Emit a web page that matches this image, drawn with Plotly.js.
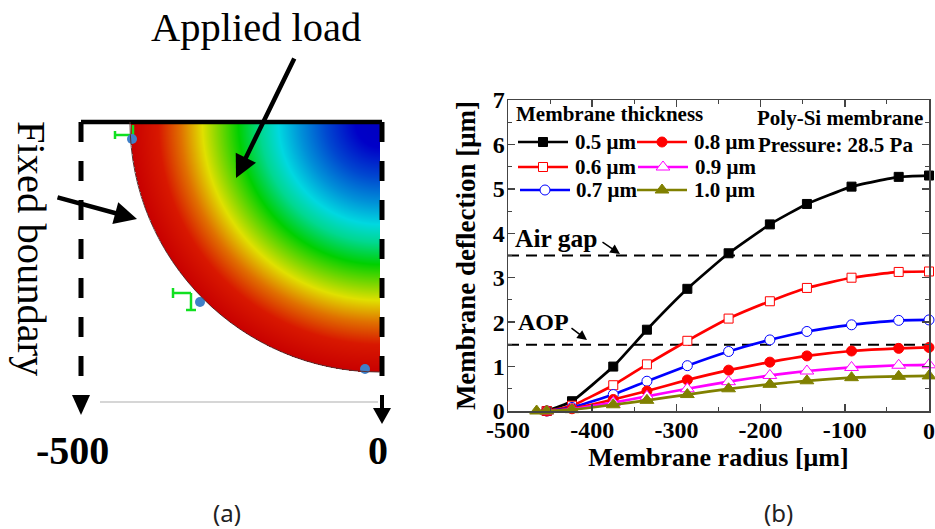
<!DOCTYPE html>
<html><head><meta charset="utf-8">
<script src="https://cdn.plot.ly/plotly-3.0.1.min.js"></script>
<style>html,body{margin:0;padding:0;background:#fff}#c{width:935px;height:529px}</style>
</head><body><div id="c"></div>
<script>
// ---- panel (b) data ----
const radius = [-466,-454,-424,-375,-335,-287,-238,-189,-145,-92,-36,0];
const t05 = [null,0,0.22,1.00,1.83,2.75,3.55,4.20,4.66,5.05,5.27,5.30];
const t06 = [null,0,0.12,0.58,1.05,1.58,2.08,2.47,2.77,3.00,3.13,3.14];
const t07 = [null,0,0.08,0.37,0.67,1.02,1.34,1.60,1.79,1.94,2.04,2.05];
const t08 = [null,0,0.05,0.26,0.45,0.70,0.92,1.10,1.24,1.35,1.41,1.43];
const t09 = [null,0,0.04,0.19,0.33,0.50,0.66,0.80,0.90,0.98,1.03,1.04];
const t10 = [0,0,0.03,0.14,0.24,0.37,0.50,0.60,0.68,0.75,0.78,0.79];
const airGap = 3.5, aop = 1.49;
const seriesNames = ['0.5 μm','0.6 μm','0.7 μm','0.8 μm','0.9 μm','1.0 μm'];
const xTickVals = [-500,-400,-300,-200,-100,0];
const xTickText = ['-500','-400','-300','-200','-100',''];
// ---- panel (a) radial field, read along the edge of the quarter membrane ----
const fieldRadius = [0,25,55,80,102,120,142,165,178,200,222,250];   // px from the centre
const fieldColor = ['#0000c0','#0000c8','#0048d0','#0090d8','#00d8e0','#00d890','#00d000','#90d800','#e0e000','#e07000','#d81800','#c80000'];

const W=935,H=529, FONT='"Liberation Serif",serif';
const px=x=>x/W, py=y=>1-y/H;
const colors=['#000','#f00','#00f','#f00','#f0f','#808000'];
const symbols=['square','square','circle','circle','triangle-up','triangle-up'];
const fills=['#000','#fff','#fff','#f00','#fff','#808000'];
const msize=[9,9,10,10,12,12];
const vals=[t05,t06,t07,t08,t09,t10];

const traces=[];
const FR=fieldRadius[fieldRadius.length-1], MICRON=5/3, STEP=1;
const gx=[],gy=[];
for(let i=0;i<=FR;i+=STEP){gx.push(-(FR-i)*MICRON);gy.push(-i*MICRON);}
const gz=gy.map((_,j)=>gx.map((_,i)=>{const r=Math.hypot(FR-i*STEP,j*STEP);return r<=FR?r:null;}));
traces.push({type:'heatmap',x:gx,y:gy,z:gz,xaxis:'x2',yaxis:'y2',zmin:0,zmax:FR,showscale:false,hoverinfo:'skip',
  colorscale:fieldRadius.map((r,i)=>[r/FR,fieldColor[i]])});

traces.push({x:[-500,0],y:[airGap,airGap],mode:'lines',line:{color:'#000',width:2,dash:'11px,7px'},showlegend:false});
traces.push({x:[-500,0],y:[aop,aop],mode:'lines',line:{color:'#000',width:2,dash:'11px,7px'},showlegend:false});
vals.forEach((v,i)=>traces.push({x:radius,y:v,mode:'lines+markers',name:seriesNames[i],showlegend:false,cliponaxis:false,
  line:{color:colors[i],width:2.7,shape:'spline',smoothing:0.4},
  marker:{symbol:symbols[i],size:msize[i],color:fills[i],line:{color:colors[i],width:1}}}));

const legX=[[518,568],[518,568],[520,570],[637,687],[638,688],[637,687]];
const legY=[142,167,190,142,167,190];
const legTX=[573,573,574,692,693,692];
vals.forEach((v,i)=>{
  traces.push({x:legX[i],y:[legY[i],legY[i]],mode:'lines',xaxis:'x3',yaxis:'y3',showlegend:false,hoverinfo:'skip',line:{color:colors[i],width:2.7}});
  traces.push({x:[(legX[i][0]+legX[i][1])/2],y:[legY[i]],mode:'markers',xaxis:'x3',yaxis:'y3',showlegend:false,hoverinfo:'skip',
    marker:{symbol:symbols[i],size:msize[i],color:fills[i],line:{color:colors[i],width:1}}});
});
traces.push({x:[115,130,null,115,115,null,191,173,null,173,173,null,191,191,null,186,196,null,133,133],
             y:[135,135,null,131,139,null,293,293,null,288,298,null,293,310,null,310,310,null,125,135],
             mode:'lines',xaxis:'x3',yaxis:'y3',showlegend:false,hoverinfo:'skip',line:{color:'#10e020',width:2.5}});
traces.push({x:[132,200,365],y:[139,302,369],mode:'markers',xaxis:'x3',yaxis:'y3',showlegend:false,hoverinfo:'skip',
  marker:{color:'#3f80c8',size:10}});

const ann=[];
const T=(text,x,y,size,opt)=>ann.push(Object.assign({text,x:px(x),y:py(y),xref:'paper',yref:'paper',showarrow:false,xanchor:'center',yanchor:'middle',
   font:{family:FONT,size,color:'#000'}},opt||{}));
const B=s=>'<b>'+s+'</b>';
T('Applied load',256,27,40.5);
T('Fixed boundary',32,249,40.5,{textangle:90});
T(B('-500'),72,450,40);
T(B('0'),378,450,40);
T('(a)',227,512,24,{font:{family:'"Noto Sans"',size:24,color:'#222'}});
T('(b)',778,512,24,{font:{family:'"Noto Sans"',size:24,color:'#222'}});
T(B('Membrane thickness'),609,114,21);
T(B('Poly-Si membrane'),840,118,21);
T(B('Pressure: 28.5 Pa'),835,145,21);
T(B('Air gap'),556,238,25.5);
T(B('AOP'),543,322,24);
T(B('0'),929,431,24);
seriesNames.forEach((n,i)=>T(B(n),legTX[i],legY[i],21,{xanchor:'left'}));
const A=(x0,y0,x1,y1,w,sz)=>ann.push({x:px(x1),y:py(y1),xref:'paper',yref:'paper',ax:x0-x1,ay:y0-y1,axref:'pixel',ayref:'pixel',text:'',showarrow:true,arrowhead:2,arrowsize:sz,arrowwidth:w,arrowcolor:'#000'});
A(295,57,236,178,4.5,1.0);
A(56,197,137,219,4.5,1.0);
A(601,241,620,254,1.5,1.3);
A(570,327,587,340,1.5,1.3);

const shapes=[];
const L=(x0,y0,x1,y1,w,c,dash)=>shapes.push({type:'line',xref:'paper',yref:'paper',x0:px(x0),y0:py(y0),x1:px(x1),y1:py(y1),line:{color:c,width:w,dash:dash||'solid'}});
L(100,402,378,402,1.5,'#c8c8c8');
L(81,122,382,122,4.5,'#000');
L(81,122,81,378,5,'#000','20px,19px');
L(382,122,382,378,5,'#000','20px,19px');
L(382,395,382,410,4,'#000');
const tri=(x,y0,y1,hw)=>shapes.push({type:'path',xref:'paper',yref:'paper',fillcolor:'#000',line:{width:0},
   path:`M ${px(x-hw)} ${py(y0)} L ${px(x+hw)} ${py(y0)} L ${px(x)} ${py(y1)} Z`});
tri(81,395,415,9); tri(382,408,424,9);
const cx=380,cy=122,R=FR,k=0.5523*R;
shapes.push({type:'path',xref:'paper',yref:'paper',line:{color:'#5a3030',width:1},
  path:`M ${px(cx-R)} ${py(cy)} C ${px(cx-R)} ${py(cy+k)} ${px(cx-k)} ${py(cy+R)} ${px(cx)} ${py(cy+R)}`});

const axisBase={showline:true,linecolor:'#444',linewidth:1.5,mirror:'ticks',ticks:'inside',ticklen:7,tickwidth:1.5,tickcolor:'#444',showgrid:false,zeroline:false,
  tickfont:{family:FONT,size:24,color:'#000',weight:700}};
const hidden={visible:false,fixedrange:true,showgrid:false,zeroline:false};
const layout={width:W,height:H,margin:{l:0,r:0,t:0,b:0},paper_bgcolor:'#fff',plot_bgcolor:'rgba(0,0,0,0)',showlegend:false,
  xaxis:Object.assign({},axisBase,{domain:[px(508),px(929)],range:[-500,0],tickmode:'array',tickvals:xTickVals,ticktext:xTickText,ticklabelstandoff:-3,
     minor:{dtick:50,ticks:'inside',ticklen:4,tickcolor:'#444',tickwidth:1},
     title:{text:'<b>Membrane radius [μm]</b>',font:{family:FONT,size:26,color:'#000'},standoff:1}}),
  yaxis:Object.assign({},axisBase,{domain:[py(411),py(100)],range:[0,7],dtick:1,tick0:0,ticklabelstandoff:-3,
     minor:{dtick:0.5,ticks:'inside',ticklen:4,tickcolor:'#444',tickwidth:1},
     title:{text:'<b>Membrane deflection [μm]</b>',font:{family:FONT,size:27,color:'#000'},standoff:9}}),
  xaxis2:Object.assign({},hidden,{domain:[px(130),px(380)],range:[-FR*MICRON,0],anchor:'y2'}),
  yaxis2:Object.assign({},hidden,{domain:[py(372),py(122)],range:[-FR*MICRON,0],anchor:'x2'}),
  xaxis3:Object.assign({},hidden,{domain:[0,1],range:[0,W],anchor:'y3'}),
  yaxis3:Object.assign({},hidden,{domain:[0,1],range:[H,0],anchor:'x3'}),
  annotations:ann,shapes};
Plotly.newPlot('c',traces,layout,{displayModeBar:false,staticPlot:true});
</script></body></html>
